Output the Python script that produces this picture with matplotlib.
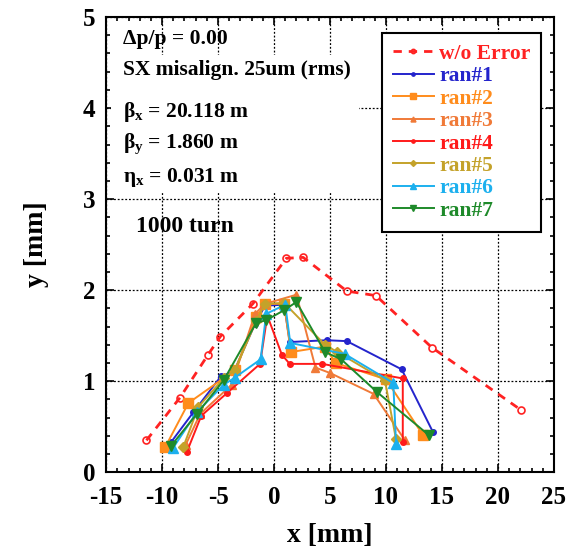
import matplotlib
matplotlib.use("Agg")
import matplotlib.pyplot as plt
from matplotlib.patches import Rectangle
from matplotlib.ticker import MultipleLocator

plt.rcParams["font.family"] = ["Liberation Serif", "DejaVu Serif"]
plt.rcParams["font.weight"] = "bold"
plt.rcParams["axes.unicode_minus"] = False
plt.rcParams["mathtext.fontset"] = "custom"
plt.rcParams["mathtext.rm"] = "Liberation Serif:bold"
plt.rcParams["mathtext.it"] = "Liberation Serif:bold"
plt.rcParams["mathtext.bf"] = "Liberation Serif:bold"

# Dynamic aperture boundaries (x [mm], y [mm])
noerr_x = [-11.4, -8.4, -5.9, -4.8, -1.9, 1.1, 2.6, 6.5, 9.1, 14.1, 22.1]
noerr_y = [0.35, 0.82, 1.29, 1.49, 1.85, 2.35, 2.36, 1.99, 1.94, 1.37, 0.68]

ran1_x = [-9.2, -7.2, -4.7, -3.6, -1.7, -0.8, 0.9, 1.4, 4.7, 6.5, 11.4, 14.2]
ran1_y = [0.33, 0.66, 1.06, 1.10, 1.63, 1.83, 1.84, 1.43, 1.45, 1.44, 1.13, 0.44]

ran2_x = [-9.7, -7.65, -3.5, -1.6, -0.8, 0.9, 1.5, 4.55, 5.5, 10.0, 13.3]
ran2_y = [0.28, 0.76, 1.12, 1.70, 1.85, 1.85, 1.32, 1.38, 1.20, 1.02, 0.41]

ran3_x = [-7.9, -6.6, -3.8, -1.7, -0.8, 2.0, 3.7, 5.0, 8.9, 11.7]
ran3_y = [0.30, 0.64, 0.96, 1.74, 1.85, 1.95, 1.15, 1.09, 0.86, 0.35]

ran4_x = [-7.8, -6.5, -4.2, -1.25, -0.6, 0.7, 1.4, 4.3, 11.5, 11.5]
ran4_y = [0.22, 0.62, 0.87, 1.19, 1.72, 1.29, 1.19, 1.19, 1.03, 0.33]

ran5_x = [-8.1, -6.75, -4.5, -3.5, -1.6, -0.8, 0.9, 4.55, 5.65, 9.9, 10.9]
ran5_y = [0.28, 0.72, 1.03, 1.12, 1.66, 1.85, 1.86, 1.40, 1.32, 1.01, 0.36]

ran6_x = [-9.0, -6.9, -4.5, -3.5, -1.2, -0.7, 1.0, 1.45, 6.3, 10.65, 10.9]
ran6_y = [0.27, 0.66, 0.96, 1.04, 1.24, 1.74, 1.84, 1.42, 1.30, 0.98, 0.31]

ran7_x = [-9.2, -6.9, -4.5, -1.6, -0.7, 0.9, 2.0, 4.55, 6.0, 9.2, 13.8]
ran7_y = [0.29, 0.64, 1.01, 1.64, 1.67, 1.78, 1.87, 1.32, 1.24, 0.88, 0.41]

labels = ["w/o Error", "ran#1", "ran#2", "ran#3", "ran#4", "ran#5", "ran#6", "ran#7"]
colors = ["#ff2222", "#2424cc", "#ff8c1c", "#f07a38", "#ff1a1a", "#c4a22a",
          "#1cb0ee", "#1e8a2a"]

fig = plt.figure(figsize=(5.8, 5.51), dpi=100)
ax = fig.add_axes([0.183, 0.143, 0.772, 0.826])

ax.set_xlim(-15, 25)
ax.set_ylim(0, 5)
ax.set_axisbelow(True)
ax.grid(True, which="major", color="black", linestyle=(0, (1.5, 1.5)), linewidth=0.9)

# white panel behind the parameter text
ax.add_patch(Rectangle((-14.6, 3.08), 22.2, 1.5, facecolor="white",
                       edgecolor="none", zorder=1))

ax.plot(noerr_x, noerr_y, color=colors[0], linestyle=(0, (3, 2.5)), linewidth=2.0,
        marker="o", markersize=5, markerfacecolor="none", markeredgewidth=1.2,
        label=labels[0], zorder=3)

series = [
    (ran1_x, ran1_y, "o", 4),
    (ran2_x, ran2_y, "s", 7),
    (ran3_x, ran3_y, "^", 6),
    (ran4_x, ran4_y, "o", 4),
    (ran5_x, ran5_y, "D", 5),
    (ran6_x, ran6_y, "^", 6.5),
    (ran7_x, ran7_y, "v", 7),
]
for i, (xs, ys, mk, ms) in enumerate(series):
    ax.plot(xs, ys, color=colors[i + 1], linewidth=1.4, marker=mk, markersize=ms,
            label=labels[i + 1], zorder=3)

ax.xaxis.set_major_locator(MultipleLocator(5))
ax.xaxis.set_minor_locator(MultipleLocator(1))
ax.yaxis.set_major_locator(MultipleLocator(1))
ax.yaxis.set_minor_locator(MultipleLocator(0.2))
ax.tick_params(which="both", direction="in", top=True, right=True, width=1.2)
ax.tick_params(which="major", length=6, labelsize=18, pad=8)
ax.tick_params(axis="x", which="major", pad=10)
ax.tick_params(which="minor", length=3)
for lab in ax.get_xticklabels() + ax.get_yticklabels():
    lab.set_fontweight("bold")
for sp in ax.spines.values():
    sp.set_linewidth(1.5)

ax.set_xlabel("x [mm]", fontsize=20, fontweight="bold", labelpad=10)
ax.set_ylabel("y [mm]", fontsize=20, fontweight="bold", labelpad=24)

txt = dict(fontsize=15.5, fontweight="bold", color="black", zorder=4)
ax.text(-13.5, 4.70, "\u0394p/p = 0.00", **txt)
ax.text(-13.5, 4.36, "SX misalign. 25um (rms)", **txt)
ax.text(-13.5, 3.90, r"$\beta_x$ = 20.118 m", **txt)
ax.text(-13.5, 3.56, r"$\beta_y$ = 1.860 m", **txt)
ax.text(-13.5, 3.19, r"$\eta_x$ = 0.031 m", **txt)
ax.text(-12.3, 2.64, "1000 turn", fontsize=17, fontweight="bold", zorder=4)

leg = ax.legend(loc="upper left", bbox_to_anchor=(0.616, 0.965), borderaxespad=0,
                prop={"family": "Liberation Serif", "weight": "bold", "size": 15.5},
                handlelength=1.9, handletextpad=0.25, labelspacing=0.11,
                borderpad=0.5, markerscale=0.6, fancybox=False, framealpha=1,
                edgecolor="black")
leg.get_frame().set_linewidth(1.5)
leg.set_zorder(5)
for t, c in zip(leg.get_texts(), colors):
    t.set_color(c)

fig.savefig("out.png", dpi=100)
